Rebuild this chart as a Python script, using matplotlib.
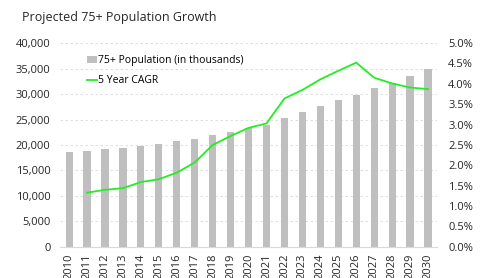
import numpy as np
import matplotlib.pyplot as plt
from matplotlib.ticker import FuncFormatter

plt.rcParams["font.family"] = ["Open Sans", "DejaVu Sans"]

years = [str(y) for y in range(2010, 2031)]
population = [18700, 18900, 19200, 19400, 19800, 20200, 20700, 21200, 22000,
              22600, 23300, 23900, 25250, 26550, 27650, 28800, 29800, 31100,
              32100, 33500, 34850]
cagr_years = years[1:]
cagr = [1.33, 1.40, 1.44, 1.59, 1.66, 1.82, 2.07, 2.50, 2.72, 2.92,
        3.03, 3.64, 3.85, 4.11, 4.32, 4.52, 4.15, 4.01, 3.91, 3.87]

fig = plt.figure(figsize=(4.85, 2.78), dpi=100)
ax = fig.add_axes([0.124, 0.112, 0.777, 0.733])
x = np.arange(len(years))
ax.bar(x, population, width=0.4, color="#bfbfbf", label="75+ Population (in thousands)", zorder=2)
ax.set_ylim(0, 40000)
ax.set_yticks(range(0, 40001, 5000))
ax.yaxis.set_major_formatter(FuncFormatter(lambda v, p: f"{int(v):,}"))
ax.set_xlim(-0.5, len(years) - 0.5)
ax.set_xticks(x)
ax.set_xticklabels(years, rotation=90)
ax.grid(axis="y", ls=(0, (3, 3)), color="#d9d9d9", lw=0.6, zorder=0)
for s in ("top", "left", "right"):
    ax.spines[s].set_visible(False)
ax.spines["bottom"].set_color("#d9d9d9")
ax.tick_params(length=0, labelsize=8, colors="#262626", pad=7)
ax.tick_params(axis="x", pad=5)

ax2 = ax.twinx()
ax2.plot(x[1:], cagr, color="#22ee22", lw=1.3, label="5 Year CAGR", zorder=3)
ax2.set_ylim(0, 5.0)
ax2.set_yticks(np.arange(0, 5.01, 0.5))
ax2.yaxis.set_major_formatter(FuncFormatter(lambda v, p: f"{v:.1f}%"))
for s in ax2.spines.values():
    s.set_visible(False)
ax2.tick_params(length=0, labelsize=8, colors="#262626", pad=8)

h1, l1 = ax.get_legend_handles_labels()
h2, l2 = ax2.get_legend_handles_labels()
ax2.legend(h1 + h2, l1 + l2, loc="upper left", bbox_to_anchor=(0.06, 0.96),
           frameon=False, fontsize=7.5, handlelength=1.0, handletextpad=0.1,
           labelspacing=0.85, borderaxespad=0)

fig.text(0.045, 0.925, "Projected 75+ Population Growth", fontsize=9, color="#262626")
fig.savefig("out.png", dpi=100)
